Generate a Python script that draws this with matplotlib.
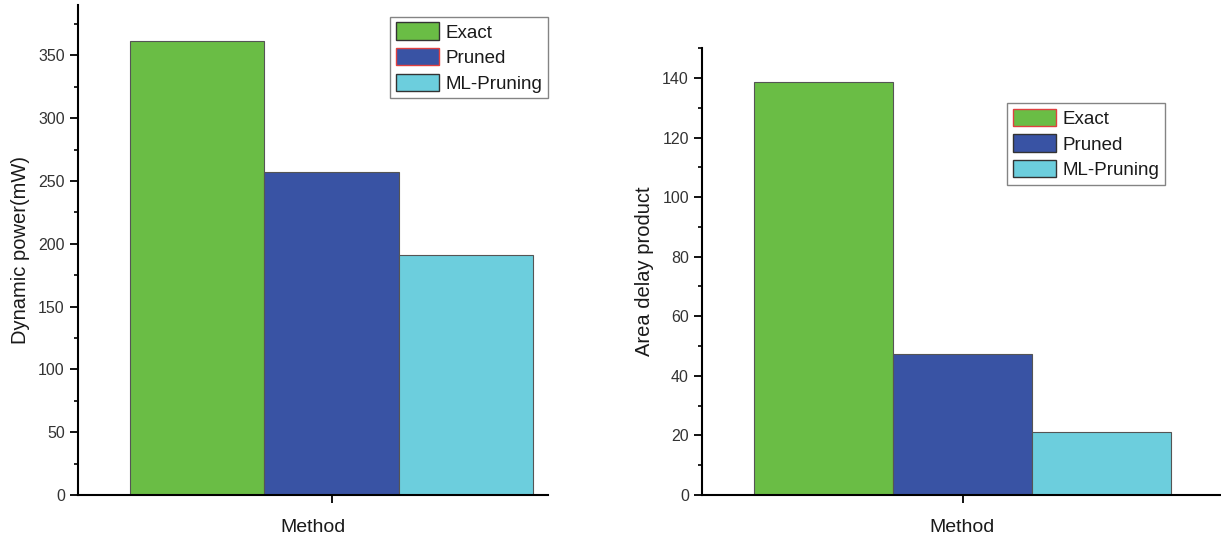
import matplotlib.pyplot as plt
from matplotlib.ticker import MultipleLocator
from matplotlib.patches import Patch

plt.rcParams['font.family'] = ['Liberation Sans', 'DejaVu Sans']

methods = ["Exact", "Pruned", "ML-Pruning"]
colors = ["#6abd45", "#3953a4", "#6ccedd"]
power = [361, 257, 191]
adp = [138.7, 47.5, 21.0]

fig = plt.figure(figsize=(12.21, 5.39), dpi=100)
ax1 = fig.add_axes([0.0639, 0.0816, 0.385, 0.909])
ax2 = fig.add_axes([0.575, 0.0816, 0.425, 0.829])


def draw(ax, vals, ylabel, ylim, major, xlim, legend_anchor, red_idx):
    x = range(len(vals))
    ax.bar(x, vals, width=1.0, color=colors, edgecolor="#555555", linewidth=0.8)
    ax.set_xlim(*xlim)
    ax.set_ylim(0, ylim)
    ax.yaxis.set_major_locator(MultipleLocator(major))
    ax.yaxis.set_minor_locator(MultipleLocator(major / 2))
    ax.set_xticks([1])
    ax.set_xticklabels([""])
    ax.set_xlabel("Method", fontsize=14, labelpad=8, color="#1a1a1a")
    ax.set_ylabel(ylabel, fontsize=14.5, labelpad=6, color="#1a1a1a")
    for s in ["top", "right"]:
        ax.spines[s].set_visible(False)
    for s in ["left", "bottom"]:
        ax.spines[s].set_linewidth(1.5)
    ax.tick_params(axis="y", which="major", length=6, width=1.3, labelsize=11.5, labelcolor="#333333")
    ax.tick_params(axis="y", which="minor", length=3, width=1.2)
    ax.tick_params(axis="x", length=6, width=1.3)
    handles = []
    for i, (m, c) in enumerate(zip(methods, colors)):
        ec = "#e04040" if i == red_idx else "#333333"
        handles.append(Patch(facecolor=c, edgecolor=ec, linewidth=1.0, label=m))
    leg = ax.legend(handles=handles, loc="upper right", bbox_to_anchor=legend_anchor,
                    fontsize=13.5, fancybox=False, edgecolor="#666666",
                    handlelength=2.3, handleheight=1.05, handletextpad=0.35,
                    labelspacing=0.35, borderpad=0.3, borderaxespad=0)
    leg.get_frame().set_linewidth(1.0)
    for t in leg.get_texts():
        t.set_color("#1a1a1a")


draw(ax1, power, "Dynamic power(mW)", 390, 50, (-0.887, 2.61), (1.0, 0.976), 1)
draw(ax2, adp, "Area delay product", 150, 20, (-0.874, 2.86), (0.892, 0.877), 0)

fig.savefig("out.png", dpi=100)
